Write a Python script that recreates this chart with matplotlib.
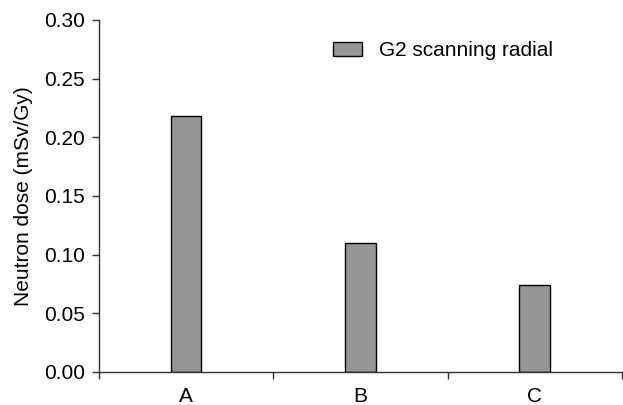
import matplotlib
matplotlib.use("Agg")
import matplotlib.pyplot as plt

plt.rcParams['font.family'] = ['Liberation Sans', 'DejaVu Sans']

# Data
categories = ["A", "B", "C"]
dose_values = [0.218, 0.110, 0.074]
series_label = "G2 scanning radial"

fig = plt.figure(figsize=(6.23, 4.05), dpi=100)
ax = fig.add_axes([0.159, 0.0815, 0.839, 0.8695])

positions = [i + 0.5 for i in range(len(categories))]
ax.bar(positions, dose_values, width=0.175, color="#959595",
       edgecolor="black", linewidth=1.0, label=series_label)

ax.set_xlim(0, len(categories))
ax.set_ylim(0, 0.30)
ax.set_yticks([0.0, 0.05, 0.10, 0.15, 0.20, 0.25, 0.30])
ax.set_yticklabels([f"{v:.2f}" for v in ax.get_yticks()])

# major ticks at category boundaries, labels in the middle
ax.set_xticks(range(len(categories) + 1))
ax.set_xticklabels([])
ax.set_xticks(positions, minor=True)
ax.set_xticklabels(categories, minor=True)
ax.tick_params(axis="x", which="minor", length=0, pad=11, labelsize=15)
ax.tick_params(axis="x", which="major", length=5, width=1, direction="out")
ax.tick_params(axis="y", length=5, width=1, direction="out", pad=5, labelsize=15)

ax.set_ylabel("Neutron dose (mSv/Gy)", fontsize=15, labelpad=8)

for s in ["top", "right"]:
    ax.spines[s].set_visible(False)
for s in ["left", "bottom"]:
    ax.spines[s].set_linewidth(1)
    ax.spines[s].set_color("#333333")
ax.tick_params(colors="#333333", labelcolor="black")

ax.legend(loc="center left", bbox_to_anchor=(0.447, 0.912), frameon=False,
          fontsize=15, borderpad=0, borderaxespad=0, handlelength=1.4,
          handleheight=0.72, handletextpad=0.8)

fig.savefig("out.png", dpi=100)
